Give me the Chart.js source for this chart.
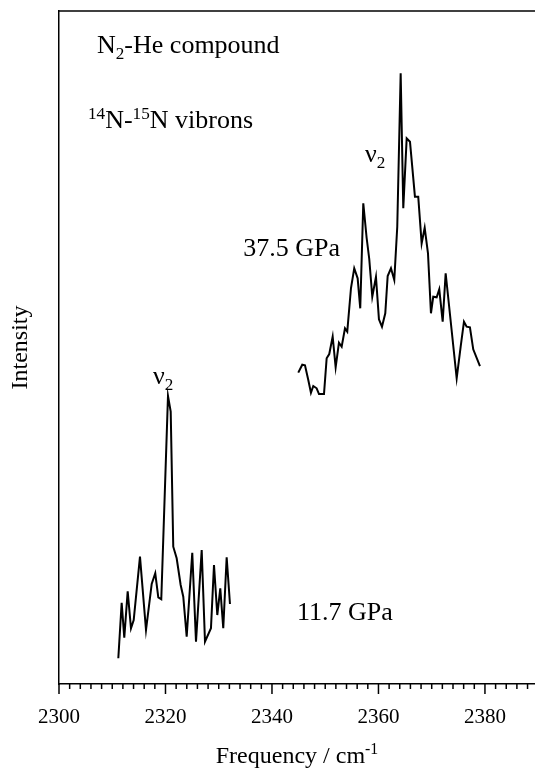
<!DOCTYPE html>
<html><head><meta charset="utf-8">
<script src="https://cdn.jsdelivr.net/npm/chart.js@4.4.1/dist/chart.umd.min.js"></script>
<style>html,body{margin:0;padding:0;background:#fff;overflow:hidden}</style>
</head><body>
<canvas id="c" width="535" height="771"></canvas>
<script>
// ---- data ----
const freq375 = [2344.94,2345.69,2346.20,2346.82,2347.32,2347.76,2348.39,2348.83,2349.77,2350.27,2350.76,2351.40,2351.96,2352.58,2353.09,2353.71,2354.14,2354.84,2355.45,2356.09,2356.58,2357.15,2357.78,2358.27,2358.84,2359.53,2360.09,2360.66,2361.28,2361.73,2362.35,2362.97,2363.53,2364.17,2364.66,2365.30,2365.92,2366.85,2367.47,2368.11,2368.68,2369.30,2369.86,2370.29,2370.93,2371.42,2372.06,2372.62,2374.69,2375.44,2376.06,2376.56,2377.18,2377.80,2379.06];
const int375  = [46.26,47.44,47.36,45.17,43.28,44.28,43.94,43.09,43.09,48.40,49.03,51.61,47.06,50.71,50.12,52.85,52.35,58.84,61.77,60.28,55.82,71.43,66.27,63.15,57.55,60.48,54.19,53.09,55.08,60.62,61.77,60.03,67.95,90.74,70.68,81.09,80.58,72.41,72.41,65.48,67.80,64.00,55.08,57.55,57.46,58.65,53.83,61.03,45.42,50.12,53.83,53.09,53.00,49.73,47.25];
const freq117 = [2311.14,2311.77,2312.26,2312.90,2313.52,2314.03,2315.21,2316.34,2317.41,2318.08,2318.65,2319.21,2320.47,2320.98,2321.46,2322.10,2322.85,2323.34,2323.98,2325.03,2325.73,2326.80,2327.42,2328.54,2329.11,2329.73,2330.29,2330.85,2331.49,2332.11];
const int117  = [3.82,12.08,6.88,13.77,8.28,9.51,18.92,8.02,14.86,16.45,12.88,12.59,42.79,40.46,20.40,18.68,14.71,12.97,7.03,19.51,6.29,19.91,6.29,8.28,17.68,10.25,14.22,8.28,18.83,11.89];
const xTickLabels = [2300, 2320, 2340, 2360, 2380];
const xRange = [2300, 2389.4];
const yRange = [0, 100];

// ---- text annotations (anchored in data coordinates) ----
const annotations = [
  {x: 2307.14, y: 93.76, align: 'left',  parts: [{t:'N'},{t:'2',k:'sub'},{t:'-He compound'}]},
  {x: 2305.45, y: 82.62, align: 'left',  parts: [{t:'14',k:'sup'},{t:'N-'},{t:'15',k:'sup'},{t:'N vibrons'}]},
  {x: 2357.46, y: 77.56, align: 'left',  parts: [{t:'\u03BD'},{t:'2',k:'sub'}]},
  {x: 2352.77, y: 63.60, align: 'right', parts: [{t:'37.5 GPa'}]},
  {x: 2317.65, y: 44.58, align: 'left',  parts: [{t:'\u03BD'},{t:'2',k:'sub'}]},
  {x: 2344.69, y: 9.50,  align: 'left',  parts: [{t:'11.7 GPa'}]}
];

const FONT = '"Liberation Serif", "Times New Roman", serif';
const FS_ANN = 26;   // annotation text
const FS_TICK = 21;  // tick labels
const FS_TITLE = 24; // axis titles

function richWidth(ctx, parts, size) {
  let w = 0;
  for (const p of parts) {
    const s = p.k ? size * 0.66 : size;
    ctx.font = s + 'px ' + FONT;
    w += ctx.measureText(p.t).width;
  }
  return w;
}
function drawRich(ctx, parts, x, y, size, align) {
  const w = richWidth(ctx, parts, size);
  let cx = align === 'right' ? x - w : (align === 'center' ? x - w / 2 : x);
  ctx.textBaseline = 'alphabetic';
  ctx.textAlign = 'left';
  ctx.fillStyle = '#000';
  for (const p of parts) {
    const s = p.k ? size * 0.66 : size;
    ctx.font = s + 'px ' + FONT;
    let dy = 0;
    if (p.k === 'sub') dy = size * 0.22;
    if (p.k === 'sup') dy = -size * 0.36;
    ctx.fillText(p.t, cx, y + dy);
    cx += ctx.measureText(p.t).width;
  }
}

const framePlugin = {
  id: 'frame',
  afterDraw(chart) {
    const ctx = chart.ctx, a = chart.chartArea, xs = chart.scales.x, ys = chart.scales.y;
    ctx.save();
    ctx.strokeStyle = '#000';
    ctx.lineWidth = 1.5;
    ctx.beginPath(); ctx.moveTo(a.left, a.top); ctx.lineTo(a.right, a.top); ctx.stroke();
    for (const t of xs.ticks) {
      const px = xs.getPixelForValue(t.value);
      const major = xTickLabels.includes(Math.round(t.value));
      ctx.beginPath(); ctx.moveTo(px, a.bottom); ctx.lineTo(px, a.bottom + (major ? 10 : 5)); ctx.stroke();
    }
    for (const an of annotations) {
      drawRich(ctx, an.parts, xs.getPixelForValue(an.x), ys.getPixelForValue(an.y), FS_ANN, an.align);
    }
    drawRich(ctx, [{t:'Frequency / cm'},{t:'-1',k:'sup'}], (a.left + a.right) / 2, 763, FS_TITLE, 'center');
    ctx.restore();
  }
};

const toPts = (xs, ys) => xs.map((x, i) => ({x, y: ys[i]}));

new Chart(document.getElementById('c'), {
  type: 'scatter',
  data: {
    datasets: [
      {label: '37.5 GPa', data: toPts(freq375, int375), showLine: true, borderColor: '#000', borderWidth: 2, pointRadius: 0, tension: 0, fill: false},
      {label: '11.7 GPa', data: toPts(freq117, int117), showLine: true, borderColor: '#000', borderWidth: 2, pointRadius: 0, tension: 0, fill: false}
    ]
  },
  options: {
    responsive: false,
    devicePixelRatio: 1,
    animation: false,
    layout: {padding: {top: 11, right: 0, left: 0, bottom: 0}},
    plugins: {legend: {display: false}, tooltip: {enabled: false}},
    scales: {
      x: {
        type: 'linear', min: xRange[0], max: xRange[1],
        afterFit(s) { s.height = 87; s.paddingLeft = 0; s.paddingRight = 0; },
        grid: {display: false, drawTicks: false},
        border: {display: true, color: '#000', width: 1.5},
        ticks: {
          stepSize: 2, includeBounds: false, autoSkip: false, maxRotation: 0,
          padding: 21, color: '#000', font: {family: FONT, size: FS_TICK},
          callback: (v) => xTickLabels.includes(Math.round(v)) && Math.abs(v - Math.round(v)) < 1e-6 ? String(Math.round(v)) : ''
        },
        title: {display: false}
      },
      y: {
        type: 'linear', min: yRange[0], max: yRange[1],
        afterFit(s) { s.width = 59; s.paddingTop = 0; s.paddingBottom = 0; },
        grid: {display: false, drawTicks: false},
        border: {display: true, color: '#000', width: 1.5},
        ticks: {display: false},
        title: {display: true, text: 'Intensity', color: '#000', font: {family: FONT, size: FS_TITLE}, padding: {top: 6, bottom: 0}}
      }
    }
  },
  plugins: [framePlugin]
});
</script>
</body></html>
